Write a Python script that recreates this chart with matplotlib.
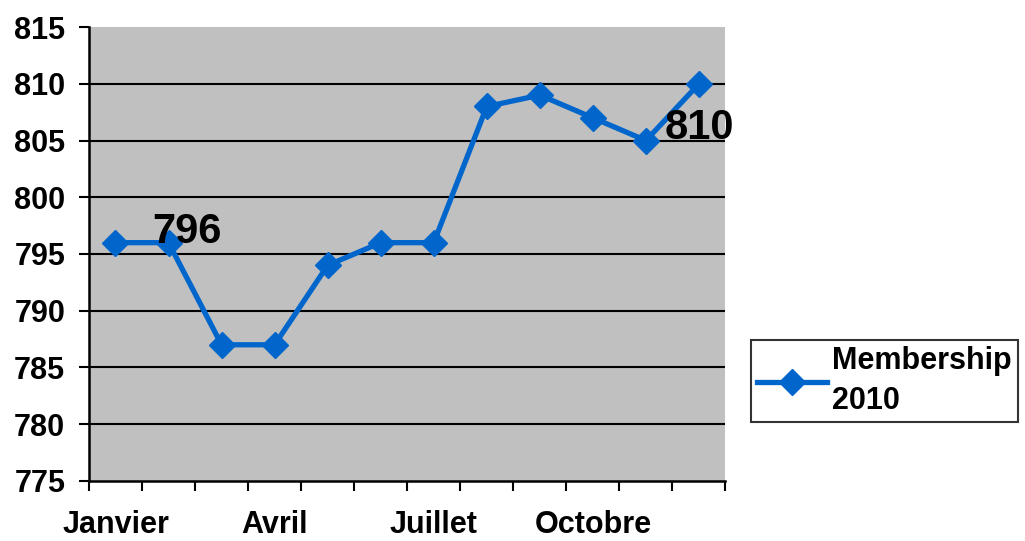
import matplotlib.pyplot as plt
import numpy as np

plt.rcParams['font.family'] = ['Liberation Sans', 'DejaVu Sans']
plt.rcParams['font.weight'] = 'bold'

mois = ["Janvier", "Fevrier", "Mars", "Avril", "Mai", "Juin", "Juillet",
        "Aout", "Septembre", "Octobre", "Novembre", "Decembre"]
membres = [796, 796, 787, 787, 794, 796, 796, 808, 809, 807, 805, 810]
labels_mois = ["Janvier", "Avril", "Juillet", "Octobre"]
pos_labels = [0, 3, 6, 9]

x = np.arange(len(mois))

fig = plt.figure(figsize=(10.25, 5.41), dpi=100)
ax = fig.add_axes([0.0868, 0.111, 0.621, 0.839])
ax.set_facecolor("#C0C0C0")

for yv in range(780, 815, 5):
    ax.axhline(yv, color="black", lw=1.5, zorder=1)

ax.plot(x, membres, color="#0066CC", lw=3.8, marker="D", markersize=13.5,
        zorder=3, label="Membership\n2010")

ax.annotate(str(membres[1]), (x[1], membres[1]), xytext=(13, 8),
            textcoords="offset points", fontsize=30, fontweight="bold",
            ha="center", va="center", zorder=4)
ax.annotate(str(membres[-1]), (x[-1], membres[-1]), xytext=(0, -32),
            textcoords="offset points", fontsize=30, fontweight="bold",
            ha="center", va="center", zorder=4)

ax.set_xlim(-0.5, 11.5)
ax.set_ylim(775, 815)
ax.set_yticks(range(775, 816, 5))
ax.tick_params(axis="y", labelsize=22, length=7, width=1.5, direction="out", pad=10)

ax.set_xticks(np.arange(-0.5, 12, 1))
ax.set_xticklabels([])
ax.set_xticks(pos_labels, minor=True)
ax.set_xticklabels(labels_mois, minor=True)
ax.tick_params(axis="x", which="major", length=7, width=1.5, direction="out")
ax.tick_params(axis="x", which="minor", length=0, labelsize=22, pad=21)

for s in ["top", "right"]:
    ax.spines[s].set_visible(False)
ax.spines["left"].set_linewidth(1.8)
ax.spines["bottom"].set_linewidth(1.8)

leg = ax.legend(loc="center left", bbox_to_anchor=(1.04, 0.22), fontsize=22,
                frameon=True, fancybox=False, handlelength=2.3, borderpad=0.2,
                handletextpad=0.15, borderaxespad=0)
for t in leg.get_texts():
    t.set_linespacing(1.4)
leg.get_frame().set_edgecolor("black")
leg.get_frame().set_linewidth(1.5)

plt.savefig("out.png", dpi=100)
